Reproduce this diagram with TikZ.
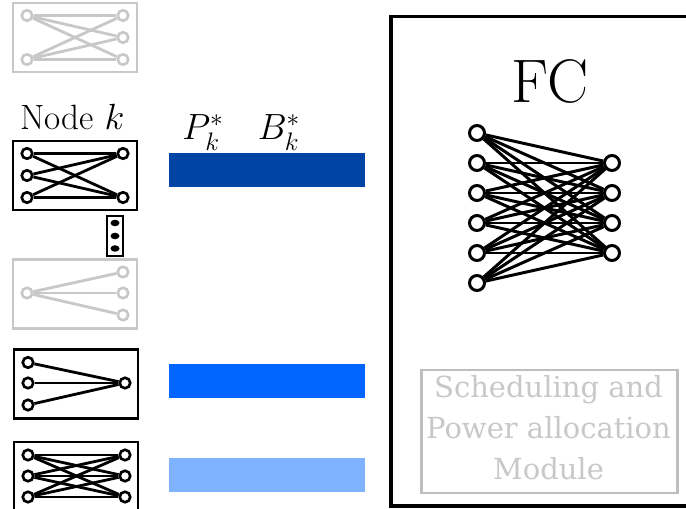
\documentclass[tikz,border=0pt]{standalone}
\usepackage{fontspec}
\newfontfamily\modfont{DejaVu Serif}
\usepackage{amsmath}
\usepackage{amssymb}
\usetikzlibrary{positioning}
\definecolor{lgray}{RGB}{200,200,200}
\definecolor{mgray}{RGB}{190,190,190}
\definecolor{darkblue}{RGB}{0,69,165}
\definecolor{midblue}{RGB}{0,102,255}
\definecolor{lightblue}{RGB}{128,179,255}
\tikzstyle{box} = [rectangle, draw, line width=1.6pt, minimum width=2.48cm, minimum height=1.38cm, inner sep=0]
\tikzstyle{nd} = [circle, draw, line width=1.5pt, minimum size=0.21cm, inner sep=0]
\tikzstyle{bignd} = [circle, draw, line width=1.7pt, minimum size=0.3cm, inner sep=0]
\tikzstyle{bar} = [rectangle, draw=none, minimum width=3.92cm, minimum height=0.68cm, inner sep=0]
\tikzstyle{ed} = [-, line width=1.6pt]

\begin{document}
\begin{tikzpicture}
\useasboundingbox (0,0) rectangle (13.72,10.16);
% inactive node (top)
\node [box, draw=lgray] (m1) at (1.5, 9.41) {};
\node [nd, draw=lgray] (m1a) at (0.54, 9.85) {};
\node [nd, draw=lgray] (m1b) at (0.54, 8.97) {};
\node [nd, draw=lgray] (m1x) at (2.46, 9.85) {};
\node [nd, draw=lgray] (m1y) at (2.46, 9.41) {};
\node [nd, draw=lgray] (m1z) at (2.46, 8.97) {};
\foreach \i in {m1a,m1b} \foreach \j in {m1x,m1y,m1z} \draw [ed, lgray] (\i) to (\j);
% node k
\node [draw=none, anchor=base, font=\fontsize{20}{24}\selectfont] (lbl) at (1.45, 7.56) {Node $k$};
\node [box] (mk) at (1.5, 6.65) {};
\node [nd] (mka) at (0.54, 7.09) {};
\node [nd] (mkb) at (0.54, 6.65) {};
\node [nd] (mkc) at (0.54, 6.21) {};
\node [nd] (mkx) at (2.46, 7.09) {};
\node [nd] (mky) at (2.46, 6.21) {};
\foreach \i in {mka,mkb,mkc} \foreach \j in {mkx,mky} \draw [ed] (\i) to (\j);
% dots
\node [rectangle, draw, line width=1.5pt, minimum width=0.32cm, minimum height=0.8cm, inner sep=0] (dots) at (2.30, 5.44) {};
\fill (2.30, 5.70) ellipse (0.09 and 0.065);
\fill (2.30, 5.44) ellipse (0.09 and 0.065);
\fill (2.30, 5.19) ellipse (0.09 and 0.065);
% inactive node (fan)
\node [box, draw=lgray] (m2) at (1.5, 4.28) {};
\node [nd, draw=lgray] (m2a) at (0.54, 4.30) {};
\node [nd, draw=lgray] (m2x) at (2.46, 4.72) {};
\node [nd, draw=lgray] (m2y) at (2.46, 4.30) {};
\node [nd, draw=lgray] (m2z) at (2.46, 3.86) {};
\foreach \j in {m2x,m2y,m2z} \draw [ed, lgray] (m2a) to (\j);
% active node 3-1
\node [box] (m3) at (1.52, 2.48) {};
\node [nd] (m3a) at (0.56, 2.91) {};
\node [nd] (m3b) at (0.56, 2.50) {};
\node [nd] (m3c) at (0.56, 2.06) {};
\node [nd] (m3x) at (2.50, 2.50) {};
\foreach \i in {m3a,m3b,m3c} \draw [ed] (\i) to (m3x);
% active node 3-3
\node [box] (m4) at (1.52, 0.63) {};
\node [nd] (m4a) at (0.56, 1.06) {};
\node [nd] (m4b) at (0.56, 0.64) {};
\node [nd] (m4c) at (0.56, 0.22) {};
\node [nd] (m4x) at (2.50, 1.06) {};
\node [nd] (m4y) at (2.50, 0.64) {};
\node [nd] (m4z) at (2.50, 0.22) {};
\foreach \i in {m4a,m4b,m4c} \foreach \j in {m4x,m4y,m4z} \draw [ed] (\i) to (\j);
% allocations
\node [draw=none, anchor=base, font=\fontsize{22}{26}\selectfont] (P) at (4.06, 7.36) {$P_k^*$};
\node [draw=none, anchor=base, font=\fontsize{22}{26}\selectfont] (B) at (5.58, 7.36) {$B_k^*$};
\node [bar, fill=darkblue] (b1) at (5.34, 6.76) {};
\node [bar, fill=midblue] (b2) at (5.34, 2.54) {};
\node [bar, fill=lightblue] (b3) at (5.34, 0.66) {};
% fusion center
\node [rectangle, draw, line width=1.8pt, minimum width=6.68cm, minimum height=9.79cm, inner sep=0] (fc) at (11.16, 4.935) {};
\node [draw=none, anchor=base, font=\fontsize{35}{40}\selectfont] (fct) at (11.0, 8.10) {FC};
\foreach \i in {1,...,6} \node [bignd] (l\i) at (9.54, {8.1-0.6*\i}) {};
\foreach \j in {1,...,4} \node [bignd] (r\j) at (12.24, {7.5-0.6*\j}) {};
\foreach \i in {1,...,6} \foreach \j in {1,...,4} \draw [-, line width=1.7pt] (l\i) to (r\j);
\node [rectangle, draw=mgray, line width=1.7pt, minimum width=5.12cm, minimum height=2.46cm, inner sep=0] (sch) at (10.98, 1.53) {};
\node [draw=none, align=center, text=lgray, font=\modfont\fontsize{16.5}{23.2}\selectfont] (scht) at (10.97, 1.61) {Scheduling and\\Power allocation\\Module};
\end{tikzpicture}
\end{document}
